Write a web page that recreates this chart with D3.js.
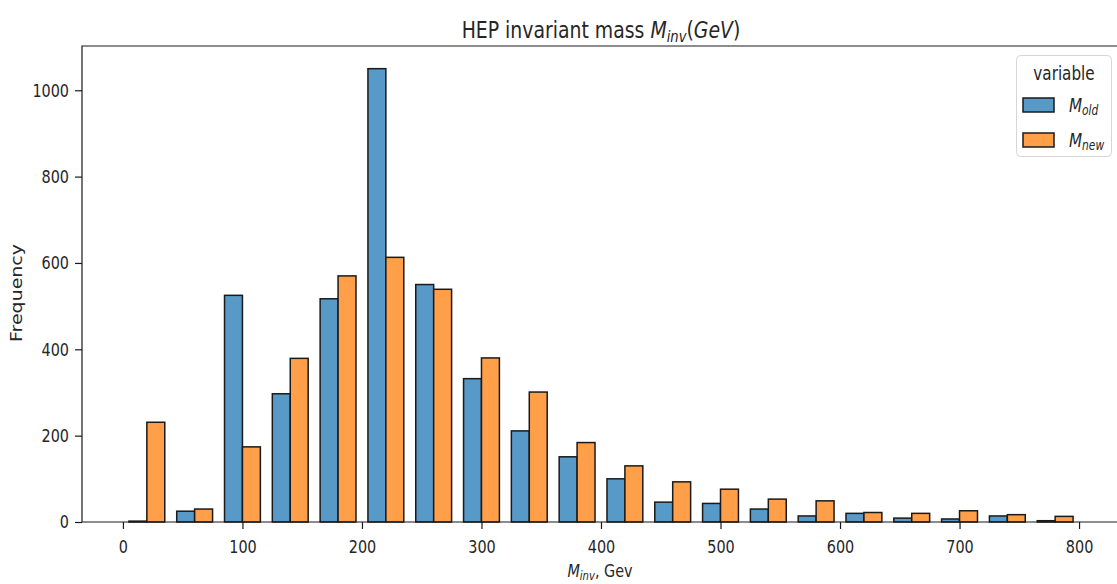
<!DOCTYPE html>
<html lang="en">

<head>
  <meta charset="UTF-8">
  <title>HEP invariant mass</title>
  <script src="https://d3js.org/d3.v7.min.js"></script>
  <style>
    body {
      margin: 0;
      background: #fff;
    }

    svg text {
      font-family: "DejaVu Sans", sans-serif;
      fill: #262626;
    }

    .bar {
      stroke: #1a1a1a;
      stroke-width: 1.5;
    }
  </style>
</head>

<body>
  <svg id="chart" width="1117" height="584"></svg>

  <script>
    // histogram bins (GeV), 40 wide
    const binStarts = [0, 40, 80, 120, 160, 200, 240, 280, 320, 360, 400, 440, 480, 520, 560, 600, 640, 680, 720, 760];
    const binWidth = 40;
    const oldCounts = [2, 25, 525, 297, 517, 1050, 550, 332, 211, 151, 100, 46, 43, 30, 14, 20, 9, 7, 14, 3];
    const newCounts = [231, 30, 174, 379, 570, 613, 539, 380, 301, 184, 130, 93, 76, 53, 49, 22, 20, 26, 17, 13];
    const xTicks = [0, 100, 200, 300, 400, 500, 600, 700, 800];
    const yTicks = [0, 200, 400, 600, 800, 1000];
    const seriesKeys = ["old", "new"];
    const colors = { old: "#5799c7", new: "#ff9f4a" };

    const squish = 0.8; // text in the picture is horizontally narrow
    const plot = { left: 82, right: 1117, top: 46, bottom: 522 };

    const svg = d3.select("#chart");

    const x = d3.scaleLinear()
      .domain([-34.25, 831.75])
      .range([plot.left, plot.right]);

    const y = d3.scaleLinear()
      .domain([0, 1102.5])
      .range([plot.bottom, plot.top]);

    // dodge layout inside each bin
    const inner = d3.scaleBand()
      .domain(seriesKeys)
      .range([binWidth * 0.125, binWidth * 0.875])
      .padding(0);

    const rows = binStarts.map((b, i) => ({ start: b, old: oldCounts[i], new: newCounts[i] }));

    seriesKeys.forEach(key => {
      svg.append("g")
        .selectAll("rect")
        .data(rows)
        .join("rect")
        .attr("class", "bar")
        .attr("fill", colors[key])
        .attr("x", d => x(d.start + inner(key)))
        .attr("width", d => x(d.start + inner(key) + inner.bandwidth()) - x(d.start + inner(key)))
        .attr("y", d => y(d[key]))
        .attr("height", d => y(0) - y(d[key]));
    });

    // axes
    const xAxis = svg.append("g")
      .attr("transform", `translate(0,${plot.bottom})`)
      .call(d3.axisBottom(x).tickValues(xTicks).tickFormat(d3.format("d")).tickSize(7).tickPadding(11).tickSizeOuter(0));

    const yAxis = svg.append("g")
      .attr("transform", `translate(${plot.left},0)`)
      .call(d3.axisLeft(y).tickValues(yTicks).tickFormat(d3.format("d")).tickSize(7).tickSizeOuter(0));

    [xAxis, yAxis].forEach(a => {
      a.select(".domain").remove();
      a.selectAll("line").attr("stroke", "#1a1a1a").attr("stroke-width", 1.2);
      a.selectAll("text")
        .style("font-size", "18px")
        .attr("fill", "#262626");
    });
    xAxis.selectAll("text").attr("transform", `scale(${squish},1)`);
    yAxis.selectAll("text")
      .attr("x", -13 / squish)
      .attr("transform", `scale(${squish},1)`);

    // spines
    svg.append("path")
      .attr("d", `M${plot.left},${plot.bottom}V${plot.top}H${plot.right}M${plot.left},${plot.bottom}H${plot.right}`)
      .attr("fill", "none")
      .attr("stroke", "#1a1a1a")
      .attr("stroke-width", 1.2);

    // text with italic math + subscript
    function mathText(sel, parts) {
      parts.forEach(p => {
        const t = sel.append("tspan").text(p.t);
        if (p.i) t.style("font-style", "italic");
        if (p.sub) t.style("font-size", "0.7em").attr("dy", "0.22em");
        if (p.up) t.attr("dy", "-0.154em");
      });
    }

    const title = svg.append("text")
      .attr("transform", `translate(601,38) scale(0.82,1)`)
      .attr("text-anchor", "middle")
      .style("font-size", "23px");
    mathText(title, [
      { t: "HEP invariant mass " },
      { t: "M", i: true },
      { t: "inv", i: true, sub: true },
      { t: "(", up: true },
      { t: "GeV", i: true },
      { t: ")" }
    ]);

    const xLabel = svg.append("text")
      .attr("transform", `translate(600,577) scale(${squish},1)`)
      .attr("text-anchor", "middle")
      .style("font-size", "18px");
    mathText(xLabel, [
      { t: "M", i: true },
      { t: "inv", i: true, sub: true },
      { t: ", Gev", up: true }
    ]);

    svg.append("text")
      .attr("transform", `translate(22,293) scale(${squish},1) rotate(-90)`)
      .attr("text-anchor", "middle")
      .style("font-size", "19px")
      .text("Frequency");

    // legend
    const legend = svg.append("g");
    legend.append("rect")
      .attr("x", 1016.5).attr("y", 55.5)
      .attr("width", 95).attr("height", 101)
      .attr("rx", 4)
      .attr("fill", "#fff")
      .attr("stroke", "#d6d6d6");

    legend.append("text")
      .attr("transform", `translate(1064,80) scale(${squish},1)`)
      .attr("text-anchor", "middle")
      .style("font-size", "19px")
      .text("variable");

    const legendRows = [
      { key: "old", sub: "old", top: 98 },
      { key: "new", sub: "new", top: 133 }
    ];
    legendRows.forEach(r => {
      legend.append("rect")
        .attr("class", "bar")
        .attr("x", 1023).attr("y", r.top)
        .attr("width", 31).attr("height", 14)
        .attr("fill", colors[r.key]);
      const t = legend.append("text")
        .attr("transform", `translate(1069,${r.top + 14}) scale(${squish},1)`)
        .style("font-size", "19px");
      mathText(t, [{ t: "M", i: true }, { t: r.sub, i: true, sub: true }]);
    });
  </script>
</body>

</html>
